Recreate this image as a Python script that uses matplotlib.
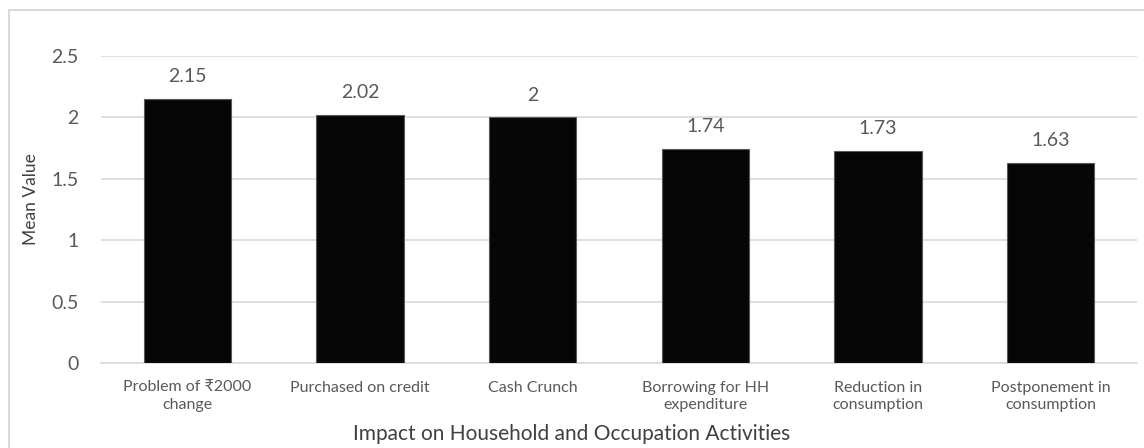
#Mean value of impact on household and occupation activities
import matplotlib.pyplot as plt
import matplotlib.patches as mpatches
import numpy as np

categories = ['Problem of \u20b92000\nchange', 'Purchased on credit', 'Cash Crunch',
              'Borrowing for HH\nexpenditure', 'Reduction in\nconsumption',
              'Postponement in\nconsumption']
mean_values = [2.15, 2.02, 2.0, 1.74, 1.73, 1.63]
value_labels = ['2.15', '2.02', '2', '1.74', '1.73', '1.63']
y_ticks = [0, 0.5, 1, 1.5, 2, 2.5]
y_tick_labels = ['0', '0.5', '1', '1.5', '2', '2.5']

plt.rcParams['font.family'] = ['Lato', 'DejaVu Sans']
grey_txt = '#595959'
grid_col = '#d9d9d9'

fig = plt.figure(figsize=(11.44, 4.48), dpi=100)
ax = fig.add_axes([101/1144, 85/448, 1036/1144, 307/448])

x = np.arange(len(categories))
bars = ax.bar(x, mean_values, width=0.505, color='#060606', edgecolor='#5a5a5a',
              linewidth=0.8, zorder=3)

#Data labels above the bars
for xi, v, lab in zip(x, mean_values, value_labels):
    ax.annotate(lab, (xi, v), xytext=(0, 10), textcoords='offset points',
                ha='center', va='bottom', fontsize=14, color=grey_txt)

ax.set_xlim(-0.5, len(categories) - 0.5)
ax.set_ylim(0, 2.5)
ax.set_yticks(y_ticks)
ax.set_yticklabels(y_tick_labels)
ax.set_xticks(x)
ax.set_xticklabels(categories, fontsize=11.5, color=grey_txt, linespacing=1.3)
ax.tick_params(axis='y', length=0, pad=16, labelsize=14, labelcolor=grey_txt)
ax.tick_params(axis='x', length=0, pad=13)
ax.yaxis.grid(True, color=grid_col, linewidth=1.2, zorder=0)
ax.set_axisbelow(True)
for s in ['top', 'right', 'left']:
    ax.spines[s].set_visible(False)
ax.spines['bottom'].set_color(grid_col)
ax.spines['bottom'].set_linewidth(1.2)

ax.set_ylabel('Mean Value', fontsize=12.5, color='#404040', va='center')
ax.yaxis.set_label_coords((31 - 101) / 1036, (448 - 199 - 85) / 307)
ax.set_xlabel('Impact on Household and Occupation Activities', fontsize=15,
              color='#404040', va='center')
ax.xaxis.set_label_coords((572 - 101) / 1036, (448 - 434 - 85) / 307)

#Chart border
border = mpatches.Rectangle((9/1144, -0.1), 1.2, 1 - 10/448 + 0.1,
                            transform=fig.transFigure, fill=False,
                            edgecolor=grid_col, linewidth=1.5, clip_on=False)
fig.patches.append(border)

plt.savefig('out.png', dpi=100)
